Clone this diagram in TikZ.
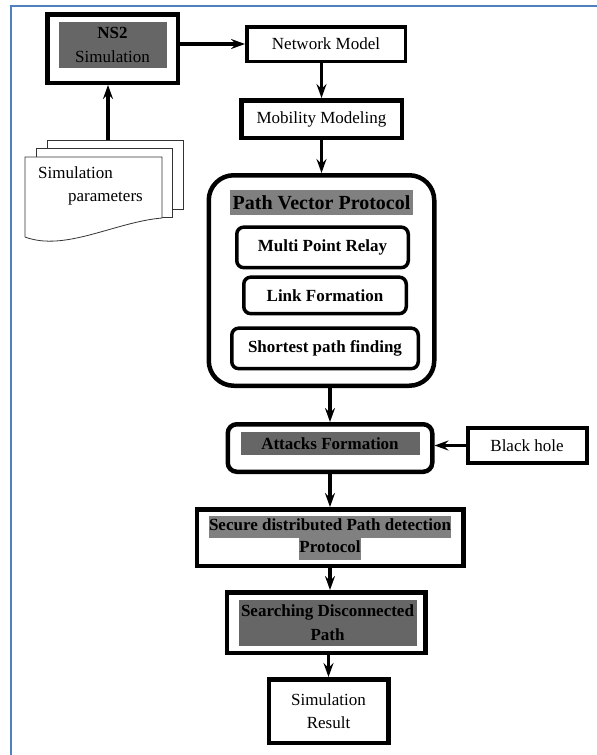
\documentclass[tikz,border=0pt]{standalone}
\usepackage{fontspec}
\setmainfont{Liberation Serif}
\usetikzlibrary{positioning,arrows.meta}
\definecolor{framecolor}{RGB}{79,129,189}
\definecolor{darkshade}{RGB}{102,102,102}
\definecolor{lightshade}{RGB}{128,128,128}
\setlength{\fboxsep}{0pt}

\begin{document}
\begin{tikzpicture}[
    x=1pt, y=-1pt,
    txt/.style={font=\fontsize{17}{23}\selectfont},
    box/.style={rectangle, draw, line width=4.5pt, fill=white, align=center, inner sep=0pt, font=\fontsize{17}{23}\selectfont},
    roundbox/.style={box, rounded corners=9pt, font=\fontsize{17}{23}\selectfont\bfseries},
    subbox/.style={roundbox, line width=3.5pt, rounded corners=7pt},
    hilite/.style={rectangle, fill=darkshade, inner sep=0pt, align=center},
    doc/.style={draw=black!80, line width=0.8pt, fill=white},
    arrow/.style={-{Stealth[length=14pt,width=10pt,inset=5pt]}, line width=3.5pt}
]

\fill[white] (0,0) rectangle (597,755);
\useasboundingbox (0,0) rectangle (597,755);

% Frame
\draw[framecolor, line width=2.5pt] (11,755) -- (11,6) -- (597,6);

% Input documents
\draw[doc] (47,209) -- (47,140) -- (183,140) -- (183,209) -- cycle;
\draw[doc] (36,217) -- (36,148) -- (172,148) -- (172,217) -- cycle;
\draw[doc] (25,237) -- (25,157) -- (162,157) -- (162,218) .. controls (115,222) and (65,252) .. (25,237);
\coordinate (doctop) at (108,140);
\node[txt, anchor=north west, align=left, inner sep=0pt] (params) at (38,166.5) {Simulation\\\hspace*{30pt}parameters};

% Main blocks
\node[box, minimum width=130.5pt, minimum height=68.5pt] (ns2) at (112.5,48.5) {};
\node[hilite, minimum width=108pt, minimum height=46pt, font=\fontsize{17}{24}\selectfont] (ns2label) at ([yshift=3.5pt]ns2.center) {\textbf{NS2}\\Simulation};
\node[box, line width=3.5pt, right=65pt of ns2, yshift=4.5pt, minimum width=158.5pt, minimum height=34.5pt] (netmodel) {Network Model};
\node[box, below=35pt of netmodel, xshift=-4.5pt, minimum width=160.5pt, minimum height=37.5pt] (mobility) {Mobility Modeling};

% Path vector protocol
\node[box, rounded corners=25pt, below=33pt of mobility, minimum width=225.5pt, minimum height=210.5pt] (pathvec) {};
\node[hilite, fill=lightshade, font=\fontsize{20}{24}\selectfont\bfseries, minimum width=183pt, minimum height=25pt, below=17pt of pathvec.north] (pvtitle) {Path Vector Protocol};
\node[subbox, below=10pt of pvtitle, xshift=1pt, minimum width=171.5pt, minimum height=40.5pt] (mpr) {Multi Point Relay};
\node[subbox, below=6pt of mpr, xshift=2.5pt, minimum width=162.5pt, minimum height=36.5pt] (link) {Link Formation};
\node[subbox, below=11pt of link, minimum width=186.5pt, minimum height=40.5pt] (shortest) {Shortest path finding};

% Attacks
\node[roundbox, below=34pt of pathvec, xshift=8.5pt, minimum width=204.5pt, minimum height=47.5pt] (attacks) {};
\node[hilite, font=\fontsize{17}{23}\selectfont\bfseries, minimum width=179pt, minimum height=23pt] (atklabel) at ([yshift=4.5pt]attacks.center) {Attacks Formation};
\node[box, line width=4pt, right=31pt of attacks, yshift=2.5pt, minimum width=119pt, minimum height=35pt] (blackhole) {Black hole};

% Detection
\node[box, below=33pt of attacks, minimum width=266.5pt, minimum height=56.5pt, font=\fontsize{17}{22}\selectfont\bfseries] (secure) {\colorbox{lightshade}{\strut Secure distributed Path detection}\\\colorbox{lightshade}{\strut Protocol}};
\node[box, below=22pt of secure, xshift=-4pt, minimum width=198.5pt, minimum height=60.5pt] (searching) {};
\node[hilite, font=\fontsize{17}{24}\selectfont\bfseries, minimum width=178pt, minimum height=46pt] (srchlabel) at ([xshift=1.5pt]searching.center) {Searching Disconnected\\Path};
\node[box, below=22pt of searching, xshift=2.5pt, minimum width=119.5pt, minimum height=63.5pt] (simresult) {Simulation\\Result};

% Arrows
\draw[arrow] (doctop) -- (doctop |- ns2.south);
\draw[arrow] (ns2.east |- netmodel.west) -- (netmodel.west);
\draw[arrow] (netmodel.south -| mobility.north) -- (mobility.north);
\draw[arrow] (mobility) -- (pathvec);
\draw[arrow] (pathvec.south -| attacks.north) -- (attacks.north);
\draw[arrow] (blackhole.west) -- (attacks.east |- blackhole.west);
\draw[arrow] (attacks) -- (secure);
\draw[arrow] (secure.south) -- (secure.south |- searching.north);
\draw[arrow] (searching.south -| simresult.north) -- (simresult.north);

\end{tikzpicture}
\end{document}
